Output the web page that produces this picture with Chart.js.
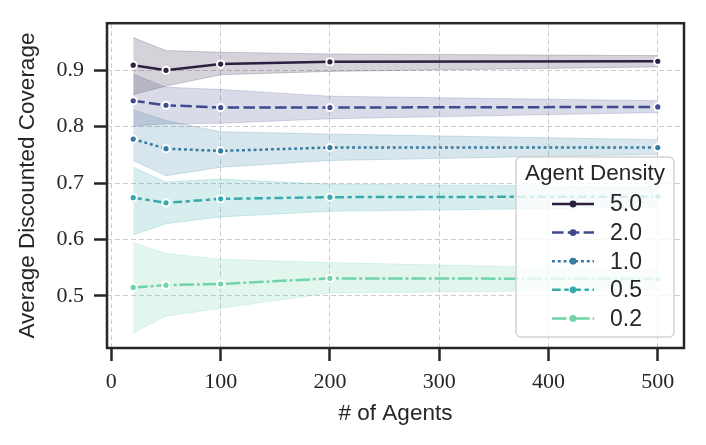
<!DOCTYPE html>
<html><head><meta charset="utf-8">
<script src="https://cdn.jsdelivr.net/npm/chart.js@4.4.0/dist/chart.umd.min.js"></script>
<style>html,body{margin:0;padding:0;background:#fff;}#wrap{width:706px;height:445px;}</style>
</head><body><div id="wrap"><canvas id="c" width="706" height="445"></canvas></div>
<script>
// ---- data ----
const AGENTS = [20, 50, 100, 200, 500];
const DENSITIES = ['5.0', '2.0', '1.0', '0.5', '0.2'];

const MEAN_5_0 = [0.909, 0.900, 0.911, 0.915, 0.916];
const LOW_5_0  = [0.857, 0.872, 0.892, 0.898, 0.906];
const HIGH_5_0 = [0.958, 0.935, 0.932, 0.929, 0.926];

const MEAN_2_0 = [0.846, 0.838, 0.834, 0.834, 0.835];
const LOW_2_0  = [0.801, 0.805, 0.806, 0.814, 0.825];
const HIGH_2_0 = [0.893, 0.870, 0.866, 0.854, 0.846];

const MEAN_1_0 = [0.778, 0.761, 0.757, 0.763, 0.763];
const LOW_1_0  = [0.740, 0.713, 0.728, 0.740, 0.751];
const HIGH_1_0 = [0.830, 0.811, 0.791, 0.787, 0.777];

const MEAN_0_5 = [0.674, 0.665, 0.672, 0.675, 0.676];
const LOW_0_5  = [0.608, 0.628, 0.640, 0.650, 0.657];
const HIGH_0_5 = [0.728, 0.702, 0.707, 0.698, 0.694];

const MEAN_0_2 = [0.515, 0.519, 0.521, 0.531, 0.530];
const LOW_0_2  = [0.434, 0.464, 0.478, 0.505, 0.511];
const HIGH_0_2 = [0.594, 0.575, 0.565, 0.559, 0.546];

const X_TICKS = [0, 100, 200, 300, 400, 500];
const Y_TICKS = [0.5, 0.6, 0.7, 0.8, 0.9];

// ---- styles ----
const MEANS = [MEAN_5_0, MEAN_2_0, MEAN_1_0, MEAN_0_5, MEAN_0_2];
const LOWS  = [LOW_5_0, LOW_2_0, LOW_1_0, LOW_0_5, LOW_0_2];
const HIGHS = [HIGH_5_0, HIGH_2_0, HIGH_1_0, HIGH_0_5, HIGH_0_2];
const COLORS = [[45,31,63],[64,73,142],[53,123,162],[56,170,172],[112,211,169]];
const DASHES = [[], [11.5,4.3], [2.9,2.9], [8.7,3.6,4.35,3.6], [14.5,2.9,2.9,2.9]];
const rgba = (c,a) => `rgba(${c[0]},${c[1]},${c[2]},${a})`;
const pts = arr => AGENTS.map((x,j) => ({x, y: arr[j]}));

const datasets = [];
DENSITIES.forEach((d,i) => {
  datasets.push({
    label: d, data: pts(MEANS[i]), borderColor: rgba(COLORS[i],1), backgroundColor: rgba(COLORS[i],1),
    borderDash: DASHES[i], borderWidth: 2.5, fill: false, tension: 0,
    pointRadius: 3.6, pointBorderWidth: 2, pointBorderColor: '#ffffff', pointBackgroundColor: rgba(COLORS[i],1),
    order: 0, isMean: true
  });
});
DENSITIES.forEach((d,i) => {
  datasets.push({
    label: d + ' hi', data: pts(HIGHS[i]), borderColor: rgba(COLORS[i],0.2), backgroundColor: rgba(COLORS[i],0.2),
    borderWidth: 1, pointRadius: 0, fill: '+1', tension: 0, order: 1
  });
  datasets.push({
    label: d + ' lo', data: pts(LOWS[i]), borderColor: rgba(COLORS[i],0.2), backgroundColor: rgba(COLORS[i],0.2),
    borderWidth: 1, pointRadius: 0, fill: false, tension: 0, order: 1
  });
});

const INK = '#262626';
const TICK_FONT = {family: 'Liberation Serif', size: 22};
const LABEL_FONT = {family: 'Liberation Sans', size: 22.5};

const framePlugin = {
  id: 'frameLegend',
  afterDraw(chart) {
    const {ctx, chartArea: a} = chart;
    ctx.save();
    ctx.strokeStyle = INK; ctx.lineWidth = 2.5; ctx.setLineDash([]);
    ctx.strokeRect(a.left, a.top, a.right - a.left, a.bottom - a.top);
    // legend
    const L = {x0: 516, y0: 157, x1: 674, y1: 337, titleY: 174, rowY0: 204, step: 28.6, lx0: 552, lx1: 594, tx: 610};
    ctx.beginPath();
    ctx.roundRect(L.x0, L.y0, L.x1 - L.x0, L.y1 - L.y0, 5);
    ctx.fillStyle = 'rgba(255,255,255,0.8)'; ctx.fill();
    ctx.strokeStyle = '#d3d3d3'; ctx.lineWidth = 1.5; ctx.stroke();
    ctx.fillStyle = INK;
    ctx.font = `${LABEL_FONT.size}px ${LABEL_FONT.family}`;
    ctx.textAlign = 'center'; ctx.textBaseline = 'middle';
    ctx.fillText('Agent Density', (L.x0 + L.x1) / 2, L.titleY);
    const means = chart.data.datasets.filter(ds => ds.isMean);
    ctx.font = `23px ${LABEL_FONT.family}`;
    means.forEach((ds, i) => {
      const y = L.rowY0 + i * L.step;
      ctx.strokeStyle = ds.borderColor; ctx.lineWidth = ds.borderWidth;
      ctx.setLineDash(ds.borderDash); ctx.beginPath();
      ctx.moveTo(L.lx0, y); ctx.lineTo(L.lx1, y); ctx.stroke();
      ctx.setLineDash([]);
      ctx.beginPath(); ctx.arc((L.lx0 + L.lx1) / 2, y, 3.4, 0, Math.PI * 2);
      ctx.fillStyle = ds.borderColor; ctx.fill();
      ctx.fillStyle = INK; ctx.textAlign = 'left';
      ctx.fillText(ds.label, L.tx, y + 1);
    });
    ctx.restore();
  }
};

new Chart(document.getElementById('c'), {
  type: 'line',
  data: {datasets},
  plugins: [framePlugin],
  options: {
    responsive: false, animation: false, devicePixelRatio: 1,
    layout: {padding: {left: 0, right: 22, top: 20, bottom: 0}, autoPadding: false},
    plugins: {legend: {display: false}, tooltip: {enabled: false}, filler: {drawTime: 'beforeDatasetsDraw'}},
    scales: {
      x: {
        type: 'linear', min: -4, max: 524,
        afterBuildTicks: s => { s.ticks = X_TICKS.map(v => ({value: v})); },
        afterFit: s => { s.height = 97; },
        ticks: {font: TICK_FONT, color: INK, padding: 8, autoSkip: false, maxRotation: 0, callback: v => String(v)},
        grid: {color: '#cccccc', lineWidth: 1, drawTicks: true, tickLength: 13, tickColor: INK, tickWidth: 2.5, tickBorderDash: []},
        border: {display: false, dash: [5, 3]},
        title: {display: true, text: '# of Agents', font: LABEL_FONT, color: INK, padding: {top: 0, bottom: 18}}
      },
      y: {
        type: 'linear', min: 0.4075, max: 0.9835,
        afterBuildTicks: s => { s.ticks = Y_TICKS.map(v => ({value: v})); },
        afterFit: s => { s.width = 107; },
        ticks: {font: TICK_FONT, color: INK, padding: 10, autoSkip: false, callback: v => v.toFixed(1)},
        grid: {color: '#cccccc', lineWidth: 1, drawTicks: true, tickLength: 13, tickColor: INK, tickWidth: 2.5, tickBorderDash: []},
        border: {display: false, dash: [5, 3]},
        title: {display: true, text: 'Average Discounted Coverage', font: LABEL_FONT, color: INK, padding: {top: 14.5, bottom: 0}}
      }
    }
  }
});
</script></body></html>
